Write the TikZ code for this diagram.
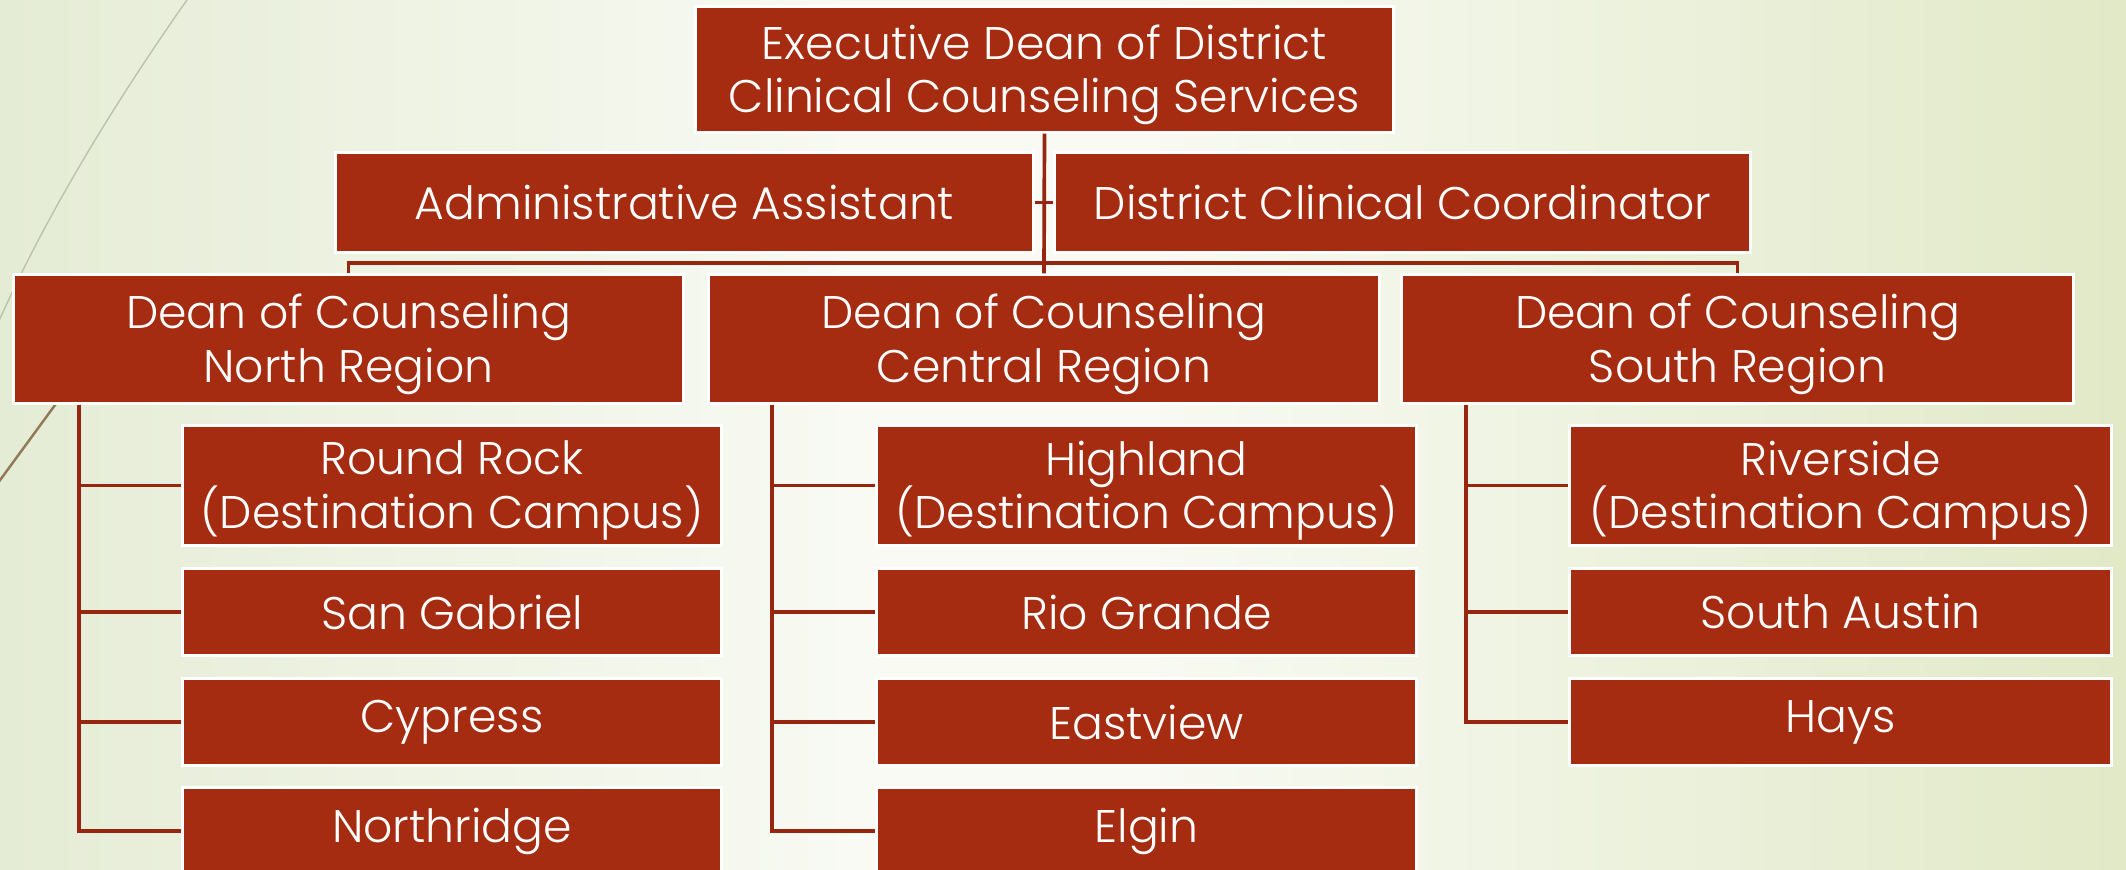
\documentclass[tikz,border=0pt]{standalone}
\usepackage{fontspec}
\setmainfont{Poppins}[UprightFont=* Light]
\usetikzlibrary{calc}
\definecolor{rust}{RGB}{165,44,16}
\definecolor{linkred}{RGB}{150,38,16}
\definecolor{bgleft}{RGB}{229,236,213}
\definecolor{bgmid}{RGB}{248,250,243}
\definecolor{bgright}{RGB}{225,233,199}
% drop a line of text a little, keeping its size
\newcommand\lowline[1]{\raisebox{-1.5pt}[\height][\depth]{#1}}
\tikzset{
	box/.style={draw=white, line width=0.85pt, fill=rust, text=white, align=center, inner sep=0pt, font=\fontsize{13}{15.3}\selectfont, execute at begin node={\lineskiplimit=-20pt}},
	link/.style={draw=linkred, line width=1.05pt},
}

\begin{document}
\begin{tikzpicture}[x=0.01cm, y=-0.01cm]
			%%%%% START %%%%%
			\useasboundingbox (0, 0) rectangle (2126, 870);
			\fill[left color=bgleft, right color=bgmid] (0, 0) rectangle (850, 870);
			\fill[bgmid] (849, 0) rectangle (1151, 870);
			\fill[left color=bgmid, right color=bgright] (1150, 0) rectangle (2126, 870);
			
			% swooshes on the left edge
			\draw[color=black!18!bgleft, line width=0.4pt] (187, 0) .. controls (120, 95) and (45, 215) .. (-5, 330);
			\draw[color=black!50!bgleft!60!brown, line width=0.7pt] (110, 330) -- (-5, 487);
			
			% top of the chart
			\node[box, minimum width=6.97cm, minimum height=1.25cm] (exec) at (1044.5, 69.5) {\lowline{Executive Dean of District}\\\lowline{Clinical Counseling Services}};
			\node[box, minimum width=6.97cm, minimum height=0.99cm] (admin) at (684.5, 202.5) {Administrative Assistant};
			\node[box, minimum width=6.95cm, minimum height=0.99cm] (coord) at (1402.5, 202.5) {District Clinical Coordinator};
			
			% deans
			\node[box, minimum width=6.69cm, minimum height=1.28cm] (north) at (348.5, 339) {\lowline{Dean of Counseling}\\\lowline{North Region}};
			\node[box, minimum width=6.70cm, minimum height=1.28cm] (central) at (1044, 339) {\lowline{Dean of Counseling}\\\lowline{Central Region}};
			\node[box, minimum width=6.71cm, minimum height=1.28cm] (south) at (1737.5, 339) {\lowline{Dean of Counseling}\\\lowline{South Region}};
			
			% campuses
			\node[box, minimum width=5.38cm, minimum height=1.19cm] (roundrock) at (452, 485.5) {\lowline{Round Rock}\\\lowline{(Destination Campus)}};
			\node[box, minimum width=5.38cm, minimum height=0.86cm] (sangabriel) at (452, 612) {San Gabriel};
			\node[box, minimum width=5.38cm, minimum height=0.86cm] (cypress) at (452, 722) {Cypress};
			\node[box, minimum width=5.38cm, minimum height=0.86cm] (northridge) at (452, 831) {Northridge};
			
			\node[box, minimum width=5.39cm, minimum height=1.19cm] (highland) at (1146.5, 485.5) {\lowline{Highland}\\\lowline{(Destination Campus)}};
			\node[box, minimum width=5.39cm, minimum height=0.86cm] (riogrande) at (1146.5, 612) {Rio Grande};
			\node[box, minimum width=5.39cm, minimum height=0.86cm] (eastview) at (1146.5, 722) {Eastview};
			\node[box, minimum width=5.39cm, minimum height=0.86cm] (elgin) at (1146.5, 831) {Elgin};
			
			\node[box, minimum width=5.41cm, minimum height=1.19cm] (riverside) at (1840.5, 485.5) {\lowline{Riverside}\\\lowline{(Destination Campus)}};
			\node[box, minimum width=5.41cm, minimum height=0.86cm] (southaustin) at (1840.5, 612) {South Austin};
			\node[box, minimum width=5.41cm, minimum height=0.86cm] (hays) at (1840.5, 722) {Hays};
			
			% connectors
			\coordinate (bus) at (0, 263);
			\draw[link] (exec.south) -- (central.north);
			\draw[link] (admin.east) -- (coord.west);
			\draw[link] (north.north) -- (north |- bus) -- (south |- bus) -- (south.north);
			
			\coordinate (ns) at ($(north.south west)+(67, 0)$);
			\foreach \c in {roundrock, sangabriel, cypress, northridge}
				\draw[link] (ns) |- (\c.west);
			\coordinate (cs) at ($(central.south west)+(65, 0)$);
			\foreach \c in {highland, riogrande, eastview, elgin}
				\draw[link] (cs) |- (\c.west);
			\coordinate (ss) at ($(south.south west)+(66, 0)$);
			\foreach \c in {riverside, southaustin, hays}
				\draw[link] (ss) |- (\c.west);
			%%%%% END %%%%%
		\end{tikzpicture}
\end{document}
